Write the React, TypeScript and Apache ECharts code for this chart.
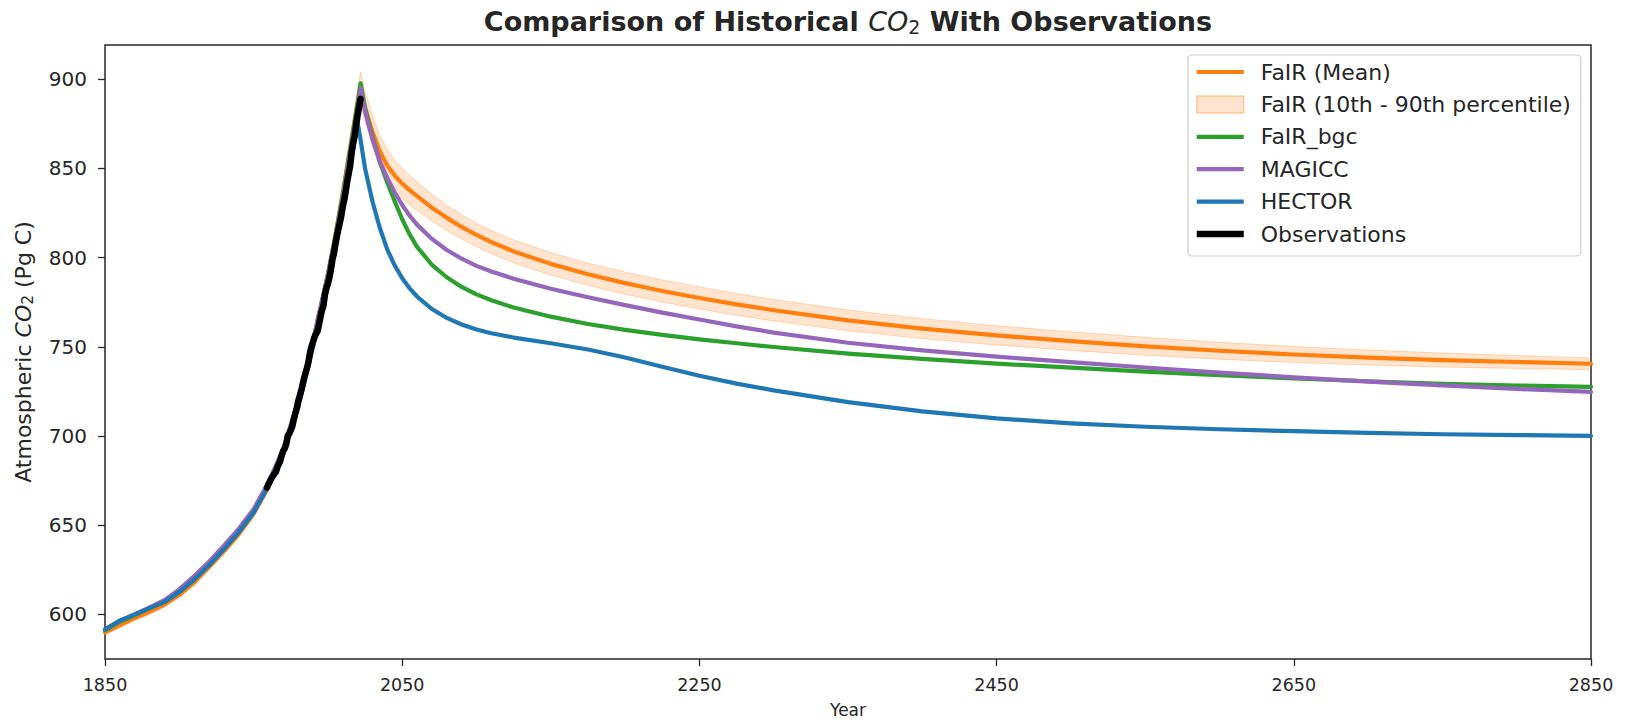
import { useEffect, useRef } from "react";
import * as echarts from "echarts";

// Model output years (shared by every model series)
const years = [
  1850, 1860, 1870, 1880, 1890, 1900, 1910, 1920, 1930, 1940, 1950, 1960, 1970,
  1980, 1990, 2000, 2005, 2010, 2015, 2020, 2022, 2025, 2030, 2035, 2040, 2045,
  2050, 2055, 2060, 2070, 2080, 2090, 2100, 2110, 2125, 2150, 2175, 2200, 2225,
  2250, 2275, 2300, 2350, 2400, 2450, 2500, 2550, 2600, 2650, 2700, 2750, 2800,
  2850,
];

// Atmospheric CO2 (Pg C)
const fairMean = [
  590, 594, 598, 601.5, 605.5, 611, 618, 626.5, 635.5, 645, 656.5, 671.5, 690.5,
  718, 752.5, 790.5, 812, 836, 861.5, 886, 894, 884, 870.5, 859.5, 851.5, 846,
  841.5, 837.8, 834.5, 828, 822.3, 817.2, 812.7, 808.7, 803.5, 796.5, 790.7, 785.7, 781.3,
  777.4, 773.8, 770.5, 764.8, 760.2, 756.4, 753.2, 750.3, 747.8, 745.7, 744, 742.6, 741.5,
  740.5,
];
const fairP10 = [
  588.5, 592.5, 596.5, 600, 604, 609.5, 616.3, 624.7, 633.6, 643, 654.3, 669, 687.5,
  714.5, 748.5, 786, 807, 830.5, 855.5, 879, 886, 876, 862, 850.5, 842.5, 837.2,
  833, 829.6, 826.5, 820.5, 815.2, 810.4, 806.1, 802.2, 797.1, 790.2, 784.5, 779.5, 775.1,
  771.2, 767.7, 764.5, 759, 754.6, 751, 748, 745.3, 743.1, 741.2, 739.8, 738.7, 737.9,
  737.2,
];
const fairP90 = [
  591.5, 595.5, 599.5, 603, 607, 612.5, 619.7, 628.3, 637.4, 647, 658.7, 674, 693.5,
  721.5, 756.5, 795, 817, 841.5, 868, 894, 904, 893, 879.5, 868.5, 860.5, 854.8,
  850, 846, 842.5, 835.5, 829.4, 824, 819.3, 815.2, 809.9, 802.8, 796.9, 791.9, 787.5,
  783.6, 779.9, 776.5, 770.6, 765.8, 761.8, 758.4, 755.3, 752.5, 750.2, 748.2, 746.5, 745.1,
  743.8,
];
const fairBgc = [
  591, 596, 599.5, 603.5, 607, 612.5, 620, 628, 637, 646.5, 657.5, 672.5, 691.5,
  719, 753, 790.5, 812, 835, 860.5, 887, 897.7, 884, 867.5, 853.5, 842, 831.5,
  821.5, 813, 806, 796, 789, 783.6, 779.4, 776.1, 772, 766.9, 762.8, 759.5, 756.7,
  754.2, 752, 749.9, 746.2, 743.2, 740.6, 738.3, 736.1, 734.1, 732.3, 730.7, 729.3, 728.3,
  727.5,
];
const magicc = [
  591.5, 596.5, 600, 604, 608, 614, 621.5, 629.5, 638.5, 648, 659, 674, 693,
  720, 754, 790, 810.5, 833, 858.5, 884, 895, 882, 866.5, 854, 844.5, 836.5,
  829.5, 823.5, 818.5, 810.5, 804.3, 799.4, 795.4, 792.2, 788.2, 782.6, 777.8, 773.4, 769.2,
  765.3, 761.5, 758, 752.3, 748, 744.5, 741.4, 738.4, 735.5, 732.9, 730.5, 728.4, 726.4,
  724.7,
];
const hector = [
  591.5, 596.5, 600, 603.5, 607, 612.5, 619.5, 627.5, 636.5, 646, 657, 672, 690,
  716, 750, 786, 806.5, 829, 852, 875.5, 866, 850, 831.5, 816.5, 804.5, 795.5,
  788.5, 782.8, 778.2, 771.2, 766.2, 762.5, 759.7, 757.6, 755.2, 752, 748.5, 744, 738.8,
  733.8, 729.4, 725.6, 719, 713.8, 709.9, 707.1, 705.2, 703.8, 702.7, 701.8, 701, 700.5,
  700.1,
];

// Observed atmospheric CO2 (Pg C), annual means
const obsYears = [
  1959, 1960, 1961, 1962, 1963, 1964, 1965, 1966, 1967, 1968, 1969, 1970, 1971,
  1972, 1973, 1974, 1975, 1976, 1977, 1978, 1979, 1980, 1981, 1982, 1983, 1984,
  1985, 1986, 1987, 1988, 1989, 1990, 1991, 1992, 1993, 1994, 1995, 1996, 1997,
  1998, 1999, 2000, 2001, 2002, 2003, 2004, 2005, 2006, 2007, 2008, 2009, 2010,
  2011, 2012, 2013, 2014, 2015, 2016, 2017, 2018, 2019, 2020, 2021, 2022,
];
const obsValues = [
  671.1, 673.1, 674.7, 676.4, 677.5, 678.9, 679.8, 682.6, 684.3, 686.2, 689.5, 691.8, 693.1,
  695.5, 700.2, 701.3, 703.3, 705.2, 709.1, 712.4, 715.4, 719.5, 722.4, 725.3, 728.9, 732.5,
  735.6, 738.3, 741.9, 747.0, 750.2, 752.9, 755.5, 757.3, 758.7, 762.4, 766.7, 770.5, 772.9,
  779.2, 782.8, 785.3, 788.7, 793.2, 798.6, 802.2, 807.1, 811.6, 815.7, 819.5, 823.3, 828.6,
  832.3, 837.0, 842.7, 847.1, 851.7, 859.0, 864.0, 868.1, 874.4, 879.8, 884.5, 889.0,
];

const xTicks = [1850, 2050, 2250, 2450, 2650, 2850];
const yTicks = [600, 650, 700, 750, 800, 850, 900];

const FONT = "DejaVu Sans";
const INK = "#262626";
const BAND_FILL = "rgba(255,127,14,0.2)";
const BAND_EDGE = "rgba(255,127,14,0.28)";
const LINE_W = 4.2;

const pairs = (xs: number[], ys: number[]) => xs.map((x, i) => [x, ys[i]]);

// Legend handle: a filled bar of the given thickness centred in a 47x17 box
const bar = (t: number) => {
  const a = (17 - t) / 2;
  const b = a + t;
  return `path://M0,0L47,0M0,17L47,17M0,${a}L47,${a}L47,${b}L0,${b}Z`;
};

export default function App() {
  const ref = useRef<HTMLDivElement>(null);

  useEffect(() => {
    if (!ref.current) return;
    const chart = echarts.init(ref.current, undefined, { renderer: "svg" });

    const lineSeries = (name: string, data: number[][], color: string, width: number, z: number) => ({
      type: "line",
      name,
      data,
      z,
      symbol: "none",
      showSymbol: false,
      smooth: false,
      lineStyle: { color, width, join: "round", cap: "round" },
      itemStyle: { color },
      emphasis: { disabled: true },
    });

    chart.setOption({
      animation: false,
      backgroundColor: "#ffffff",
      textStyle: { fontFamily: FONT },
      graphic: [
        {
          type: "text",
          x: 848,
          y: 21,
          style: {
            text: "{b|Comparison of Historical }{i|CO}{s|2}{b| With Observations}",
            textAlign: "center",
            textVerticalAlign: "middle",
            rich: {
              b: { fontFamily: FONT, fontSize: 27, fontWeight: "bold", fill: INK },
              i: { fontFamily: FONT, fontSize: 27, fontStyle: "italic", fill: INK },
              s: { fontFamily: FONT, fontSize: 19, fill: INK, padding: [11, 0, 0, 0] },
            },
          },
        },
      ],
      grid: {
        left: 105,
        right: 43,
        top: 45,
        bottom: 62,
        show: true,
        borderColor: INK,
        borderWidth: 1.5,
        backgroundColor: "transparent",
      },
      legend: {
        left: 1188,
        top: 55,
        orient: "vertical",
        itemWidth: 47,
        itemHeight: 17,
        itemGap: 10.4,
        padding: [6, 10, 11, 8],
        backgroundColor: "rgba(255,255,255,0.8)",
        borderColor: "#cccccc",
        borderWidth: 1.2,
        borderRadius: 4,
        selectedMode: false,
        textStyle: {
          fontFamily: FONT,
          fontSize: 22,
          lineHeight: 22,
          color: INK,
          padding: [0, 0, 0, 12],
        },
        data: [
          { name: "FaIR (Mean)", icon: bar(LINE_W), itemStyle: { color: "#ff7f0e", borderWidth: 0 } },
          {
            name: "FaIR (10th - 90th percentile)",
            icon: "rect",
            itemStyle: { color: BAND_FILL, borderColor: "rgba(255,127,14,0.35)", borderWidth: 1.5 },
          },
          { name: "FaIR_bgc", icon: bar(LINE_W), itemStyle: { color: "#2ca02c", borderWidth: 0 } },
          { name: "MAGICC", icon: bar(LINE_W), itemStyle: { color: "#9467bd", borderWidth: 0 } },
          { name: "HECTOR", icon: bar(LINE_W), itemStyle: { color: "#1f77b4", borderWidth: 0 } },
          { name: "Observations", icon: bar(6.5), itemStyle: { color: "#000000", borderWidth: 0 } },
        ],
      },
      xAxis: {
        type: "value",
        min: 1850,
        max: 2850,
        name: "Year",
        nameLocation: "middle",
        nameGap: 42,
        nameTextStyle: { fontFamily: FONT, fontSize: 17, color: INK },
        axisLine: { show: false },
        splitLine: { show: false },
        axisTick: {
          show: true,
          inside: false,
          length: 7,
          customValues: xTicks,
          lineStyle: { color: INK, width: 1.3 },
        },
        axisLabel: {
          customValues: xTicks,
          margin: 17,
          fontFamily: FONT,
          fontSize: 17.5,
          color: INK,
          formatter: (v: number) => String(v),
        },
      },
      yAxis: {
        type: "value",
        min: 575,
        max: 919.2,
        name: "Atmospheric {i|CO}{s|2} (Pg C)",
        nameLocation: "middle",
        nameGap: 69,
        nameTextStyle: {
          fontFamily: FONT,
          fontSize: 22,
          color: INK,
          rich: {
            i: { fontFamily: FONT, fontSize: 22, fontStyle: "italic", color: INK },
            s: { fontFamily: FONT, fontSize: 15.5, color: INK, padding: [9, 0, 0, 0] },
          },
        },
        axisLine: { show: false },
        splitLine: { show: false },
        axisTick: {
          show: true,
          inside: false,
          length: 7,
          customValues: yTicks,
          lineStyle: { color: INK, width: 1.3 },
        },
        axisLabel: {
          customValues: yTicks,
          margin: 18,
          fontFamily: FONT,
          fontSize: 20,
          color: INK,
          formatter: (v: number) => String(v),
        },
      },
      series: [
        {
          // 10th–90th percentile envelope as one polygon in data coordinates
          type: "custom",
          name: "FaIR (10th - 90th percentile)",
          coordinateSystem: "cartesian2d",
          data: [[years[0], fairP10[0]]],
          z: 1,
          silent: true,
          clip: true,
          itemStyle: { color: BAND_FILL },
          renderItem: (_params: any, api: any) => {
            const upper = years.map((y, i) => api.coord([y, fairP90[i]]));
            const lower = years.map((y, i) => api.coord([y, fairP10[i]])).reverse();
            return {
              type: "polygon",
              shape: { points: upper.concat(lower) },
              style: { fill: BAND_FILL, stroke: BAND_EDGE, lineWidth: 1 },
            };
          },
        },
        lineSeries("FaIR (Mean)", pairs(years, fairMean), "#ff7f0e", LINE_W, 2),
        lineSeries("FaIR_bgc", pairs(years, fairBgc), "#2ca02c", LINE_W, 3),
        lineSeries("MAGICC", pairs(years, magicc), "#9467bd", LINE_W, 4),
        lineSeries("HECTOR", pairs(years, hector), "#1f77b4", LINE_W, 5),
        lineSeries("Observations", pairs(obsYears, obsValues), "#000000", 6.5, 6),
      ],
    });

    return () => chart.dispose();
  }, []);

  return (
    <div
      ref={ref}
      style={{ position: "fixed", left: 0, top: 0, width: 1634, height: 723, background: "#ffffff" }}
    />
  );
}
